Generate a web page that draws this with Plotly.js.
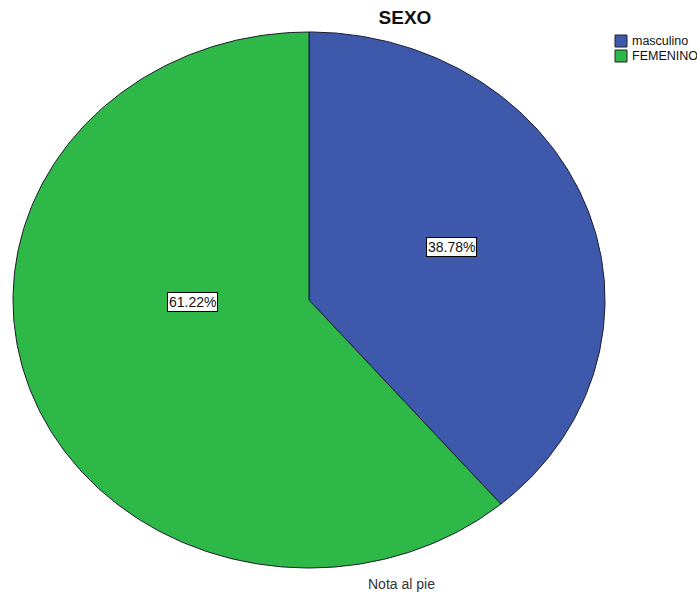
<!DOCTYPE html>
<html>
<head>
<meta charset="utf-8">
<script src="https://cdn.plot.ly/plotly-3.0.1.min.js"></script>
<style>html,body{margin:0;padding:0;background:#fff;}#chart{width:697px;height:595px;}</style>
</head>
<body>
<div id="chart"></div>
<script>
// ---- data ----
const categories = ['masculino', 'FEMENINO'];
const counts = [19, 30];
const sliceColors = ['#3e58ac', '#2eb848'];
const titleText = 'SEXO';
const footnote = 'Nota al pie';

// ---- layout helpers (positions kept apart from the data) ----
const W = 697, H = 595;
const CX = 309, CY = 300, RX = 296, RY = 268;   // ellipse in pixels
const px = v => v / W, py = v => 1 - v / H;
const labelPx = [[451, 247], [192, 302]];        // label box centres
const FONT = 'Liberation Sans, Arial, sans-serif';

const total = counts.reduce((a, b) => a + b, 0);
const traces = [];
let start = 0;
counts.forEach((c, i) => {
  const frac = c / total;
  const a0 = start * 2 * Math.PI, a1 = (start + frac) * 2 * Math.PI;
  const n = Math.max(8, Math.ceil(frac * 500));
  const xs = [0], ys = [0];
  for (let k = 0; k <= n; k++) {
    const a = a0 + (a1 - a0) * k / n;
    xs.push(Math.sin(a)); ys.push(Math.cos(a));
  }
  xs.push(0); ys.push(0);
  traces.push({
    type: 'scatter', mode: 'lines', x: xs, y: ys,
    fill: 'toself', fillcolor: sliceColors[i],
    line: {color: '#1b1b2e', width: 1},
    name: categories[i], showlegend: false, hoverinfo: 'skip'
  });
  start += frac;
});

const annotations = counts.map((c, i) => ({
  x: (labelPx[i][0] - CX) / RX, y: (CY - labelPx[i][1]) / RY, xref: 'x', yref: 'y',
  text: (100 * c / total).toFixed(2) + '%', showarrow: false,
  font: {family: FONT, size: 14, color: '#111'},
  bgcolor: '#ffffff', bordercolor: '#000000', borderwidth: 1, borderpad: 1
}));
annotations.push({
  x: px(401), y: py(584), xref: 'paper', yref: 'paper',
  xanchor: 'center', yanchor: 'middle',
  text: footnote, showarrow: false,
  font: {family: FONT, size: 14, color: '#333'}
});

// legend (swatches + text) built from the categories
const shapes = [];
categories.forEach((cat, i) => {
  const top = 35 + 15 * i;
  shapes.push({type: 'rect', xref: 'paper', yref: 'paper',
    x0: px(615), x1: px(627), y0: py(top), y1: py(top + 12),
    fillcolor: sliceColors[i], line: {color: '#222', width: 1}});
  annotations.push({x: px(630), y: py(top + 6), xref: 'paper', yref: 'paper',
    xanchor: 'left', yanchor: 'middle', text: cat, showarrow: false,
    font: {family: FONT, size: 12.5, color: '#111'}});
});

const layout = {
  width: W, height: H,
  margin: {l: 0, r: 0, t: 0, b: 0, pad: 0},
  paper_bgcolor: '#ffffff', plot_bgcolor: '#ffffff',
  title: {text: '<b>' + titleText + '</b>', x: px(405), xanchor: 'center', xref: 'container',
          y: py(17), yanchor: 'middle', yref: 'container',
          font: {family: FONT, size: 19, color: '#111'}},
  xaxis: {range: [-CX / RX, (W - CX) / RX], visible: false, fixedrange: true},
  yaxis: {range: [-(H - CY) / RY, CY / RY], visible: false, fixedrange: true},
  showlegend: false,
  shapes: shapes,
  annotations: annotations
};

Plotly.newPlot('chart', traces, layout, {displayModeBar: false, staticPlot: true});
</script>
</body>
</html>
